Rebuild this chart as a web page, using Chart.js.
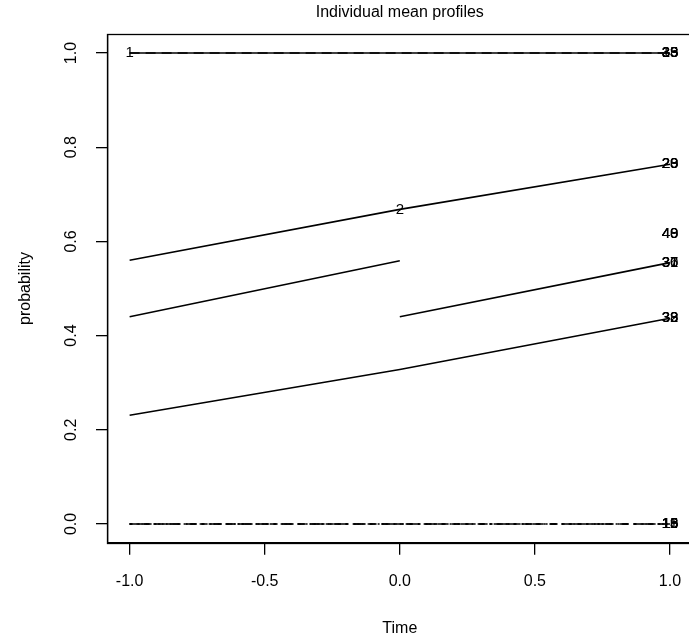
<!DOCTYPE html>
<html>
<head>
<meta charset="utf-8">
<script src="https://cdn.jsdelivr.net/npm/chart.js@4/dist/chart.umd.min.js"></script>
<style>
  body { margin: 0; overflow: hidden; background: #fff; }
</style>
</head>
<body>
<canvas id="chart_box" width="700" height="644"></canvas>
<script>
// time points and individual profiles (null = no observation)
const times = [-1, 0, 1];
const profileOne = [1.0, 1.0, 1.0];
const profileA = [0.56, 0.668, 0.764];
const profileB = [0.44, 0.559, null];
const profileC = [null, 0.44, 0.555];
const profileD = [0.231, 0.328, 0.437];
const profileZero = [0, 0, 0];

// subject labels written on the plot
const labelIds = ["1", "2",
  "33", "38", "35", "39", "13",
  "20", "28", "29", "23",
  "40", "49", "48",
  "36", "37", "30", "31",
  "32", "38", "39", "33",
  "11", "18", "19", "13", "16", "15"];
const labelTimes = [-1, 0,
  1, 1, 1, 1, 1,
  1, 1, 1, 1,
  1, 1, 1,
  1, 1, 1, 1,
  1, 1, 1, 1,
  1, 1, 1, 1, 1, 1];
const labelValues = [1.0, 0.668,
  1.0, 1.0, 1.0, 1.0, 1.0,
  0.764, 0.764, 0.764, 0.764,
  0.615, 0.615, 0.615,
  0.555, 0.555, 0.555, 0.555,
  0.437, 0.437, 0.437, 0.437,
  0, 0, 0, 0, 0, 0];

const xTicks = [-1, -0.5, 0, 0.5, 1];
const yTicks = [0, 0.2, 0.4, 0.6, 0.8, 1.0];

const FONT = "'Liberation Sans', Arial, Helvetica, sans-serif";

function toPoints(values) {
  return times.map(function (t, i) {
    return { x: t, y: values[i] };
  });
}

function profile(values, dash) {
  return {
    data: toPoints(values),
    borderColor: "#000",
    borderWidth: 1.6,
    borderDash: dash || [],
    pointRadius: 0,
    tension: 0,
    spanGaps: false,
    fill: false,
  };
}

const datasets = [
  profile(profileOne, [10, 6]),
  profile(profileOne),
  profile(profileA),
  profile(profileB),
  profile(profileC),
  profile(profileD),
  profile(profileZero, [8, 6]),
  profile(profileZero, [2, 6]),
  profile(profileZero, [2, 5, 6, 5]),
  profile(profileZero, [3, 9, 7, 5]),
];

// draws the subject ids and the frame round the plot region
const labelPlugin = {
  id: "labelPlugin",
  afterDatasetsDraw(chart) {
    const ctx = chart.ctx;
    const xs = chart.scales.x;
    const ys = chart.scales.y;
    ctx.save();
    ctx.fillStyle = "#000";
    ctx.font = "15px " + FONT;
    ctx.textAlign = "center";
    ctx.textBaseline = "middle";
    for (let i = 0; i < labelIds.length; i++) {
      ctx.fillText(labelIds[i],
        xs.getPixelForValue(labelTimes[i]),
        ys.getPixelForValue(labelValues[i]));
    }
    const a = chart.chartArea;
    ctx.strokeStyle = "#000";
    ctx.lineWidth = 1.3;
    ctx.strokeRect(Math.round(a.left) - 0.5, Math.round(a.top) + 0.5,
      Math.round(a.right - a.left) + 1, Math.round(a.bottom - a.top));
    ctx.restore();
  },
};

new Chart(document.getElementById("chart_box"), {
  type: "line",
  data: { datasets: datasets },
  plugins: [labelPlugin],
  options: {
    responsive: false,
    animation: false,
    layout: { padding: { left: 0, right: 8.4, top: 0, bottom: 0 } },
    plugins: {
      legend: { display: false },
      tooltip: { enabled: false },
      title: {
        display: true,
        text: "Individual mean profiles",
        fullSize: false,
        color: "#000",
        font: { family: FONT, size: 16, weight: "normal" },
        padding: { top: 2.6, bottom: 12.4 },
      },
    },
    scales: {
      x: {
        type: "linear",
        min: -1.08,
        max: 1.08,
        afterBuildTicks: function (s) {
          s.ticks = xTicks.map(function (v) { return { value: v }; });
        },
        afterFit: function (s) { s.height = 101.2; },
        grid: { drawOnChartArea: false, tickLength: 12, color: "#000", lineWidth: 1.3 },
        border: { display: true, color: "#000", width: 1.3 },
        ticks: {
          autoSkip: false,
          maxRotation: 0,
          padding: 17,
          color: "#000",
          font: { family: FONT, size: 16 },
          callback: function (v) { return v.toFixed(1); },
        },
        title: {
          display: true,
          text: "Time",
          color: "#000",
          font: { family: FONT, size: 16 },
          padding: { top: 0, bottom: 5.4 },
        },
      },
      y: {
        type: "linear",
        min: -0.04,
        max: 1.04,
        afterBuildTicks: function (s) {
          s.ticks = yTicks.map(function (v) { return { value: v }; });
        },
        afterFit: function (s) { s.width = 108; },
        grid: { drawOnChartArea: false, tickLength: 12, color: "#000", lineWidth: 1.3 },
        border: { display: true, color: "#000", width: 1.3 },
        ticks: {
          autoSkip: false,
          minRotation: 90,
          maxRotation: 90,
          crossAlign: "center",
          padding: 13,
          color: "#000",
          font: { family: FONT, size: 16 },
          callback: function (v) { return v.toFixed(1); },
        },
        title: {
          display: true,
          text: "probability",
          color: "#000",
          font: { family: FONT, size: 16 },
          padding: { top: 16.4, bottom: 0 },
        },
      },
    },
  },
});
</script>
</body>
</html>
